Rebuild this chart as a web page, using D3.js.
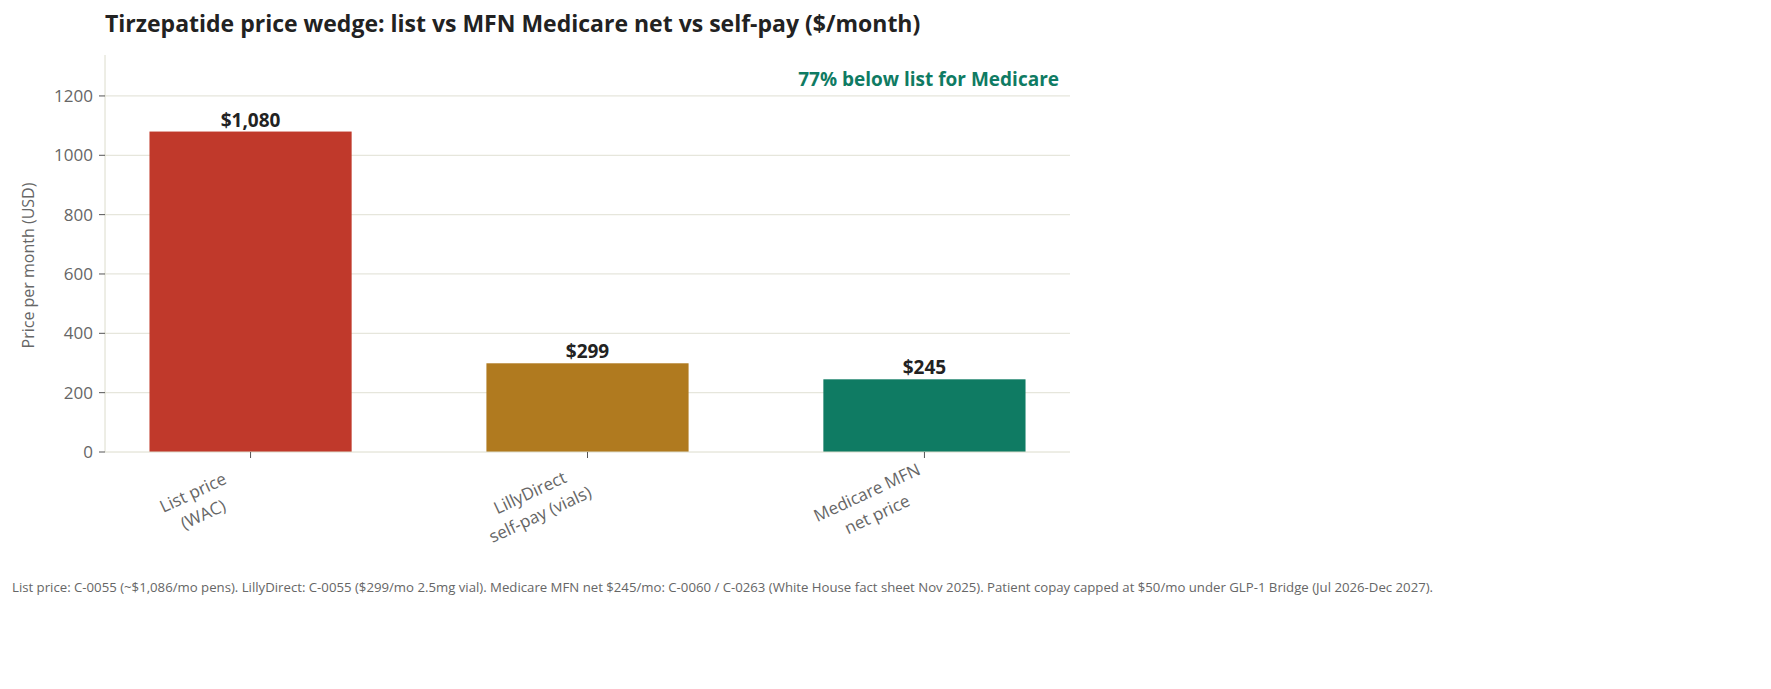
<!DOCTYPE html>
<html><head><meta charset="utf-8">
<script src="https://cdn.jsdelivr.net/npm/d3@7"></script>
<style>body{margin:0;background:#fff;font-family:"Open Sans",sans-serif}</style>
</head><body><svg id="c" width="1771" height="689"></svg>
<script>
const categories = [["List price","(WAC)"],["LillyDirect","self-pay (vials)"],["Medicare MFN","net price"]];
const values = [1080, 299, 245];
const valueLabels = ["$1,080","$299","$245"];
const colors = ["#c0392b","#b07a1f","#0f7b63"];
const yTicks = [0,200,400,600,800,1000,1200];

const svg = d3.select("#c");
const L=105,R=1070,T=55,B=452;
const x = d3.scaleBand().domain(d3.range(3)).range([L,R]).paddingInner(0.4).paddingOuter(0.132);
const y = d3.scaleLinear().domain([0,1338]).range([B,T]);

svg.append("g").selectAll("line").data(yTicks.slice(1)).join("line")
 .attr("x1",L).attr("x2",R).attr("y1",d=>y(d)).attr("y2",d=>y(d))
 .attr("stroke","#e6e6dc").attr("stroke-width",1.2);

svg.append("g").selectAll("rect").data(values).join("rect")
 .attr("x",(d,i)=>x(i)).attr("width",x.bandwidth())
 .attr("y",d=>y(d)).attr("height",d=>B-y(d)).attr("fill",(d,i)=>colors[i]);

svg.append("g").selectAll("text").data(values).join("text")
 .attr("x",(d,i)=>x(i)+x.bandwidth()/2).attr("y",d=>y(d)-5)
 .attr("text-anchor","middle").attr("font-size",19).attr("font-weight",700).attr("fill","#222")
 .text((d,i)=>valueLabels[i]);

svg.append("line").attr("x1",L).attr("x2",L).attr("y1",T).attr("y2",B).attr("stroke","#dcdccc");
svg.append("line").attr("x1",L).attr("x2",R).attr("y1",B).attr("y2",B).attr("stroke","#dcdccc");
const yt = svg.append("g").selectAll("g").data(yTicks).join("g");
yt.append("line").attr("x1",L-6).attr("x2",L).attr("y1",d=>y(d)).attr("y2",d=>y(d)).attr("stroke","#555");
yt.append("text").attr("x",L-12).attr("y",d=>y(d)+6).attr("text-anchor","end")
 .attr("font-size",17).attr("fill","#666").text(d=>d);

const xt = svg.append("g").selectAll("g").data(categories).join("g");
xt.append("line").attr("x1",(d,i)=>x(i)+x.bandwidth()/2).attr("x2",(d,i)=>x(i)+x.bandwidth()/2)
 .attr("y1",B).attr("y2",B+6).attr("stroke","#555");
xt.append("text").attr("font-size",17).attr("fill","#666")
 .each(function(d){
   const t=d3.select(this);
   d.forEach((s,k)=>t.append("tspan").attr("x",0).attr("dy",k?24:0).attr("text-anchor","middle").text(s));
 })
 .attr("transform",(d,i)=>`translate(${x(i)+x.bandwidth()/2-55},${B+46}) rotate(-25)`);

svg.append("text").attr("transform",`translate(34,${(T+B)/2+12}) rotate(-90)`)
 .attr("text-anchor","middle").attr("font-size",16).attr("fill","#666").text("Price per month (USD)");

svg.append("text").attr("x",105).attr("y",32).attr("font-size",23).attr("font-weight",700).attr("fill","#222")
 .text("Tirzepatide price wedge: list vs MFN Medicare net vs self-pay ($/month)");
svg.append("text").attr("x",1059).attr("y",86).attr("text-anchor","end").attr("font-size",19)
 .attr("font-weight",700).attr("fill","#0f7b63").text("77% below list for Medicare");
svg.append("text").attr("x",12).attr("y",592).attr("font-size",13.2).attr("fill","#666")
 .text("List price: C-0055 (~$1,086/mo pens). LillyDirect: C-0055 ($299/mo 2.5mg vial). Medicare MFN net $245/mo: C-0060 / C-0263 (White House fact sheet Nov 2025). Patient copay capped at $50/mo under GLP-1 Bridge (Jul 2026-Dec 2027).");
</script></body></html>
